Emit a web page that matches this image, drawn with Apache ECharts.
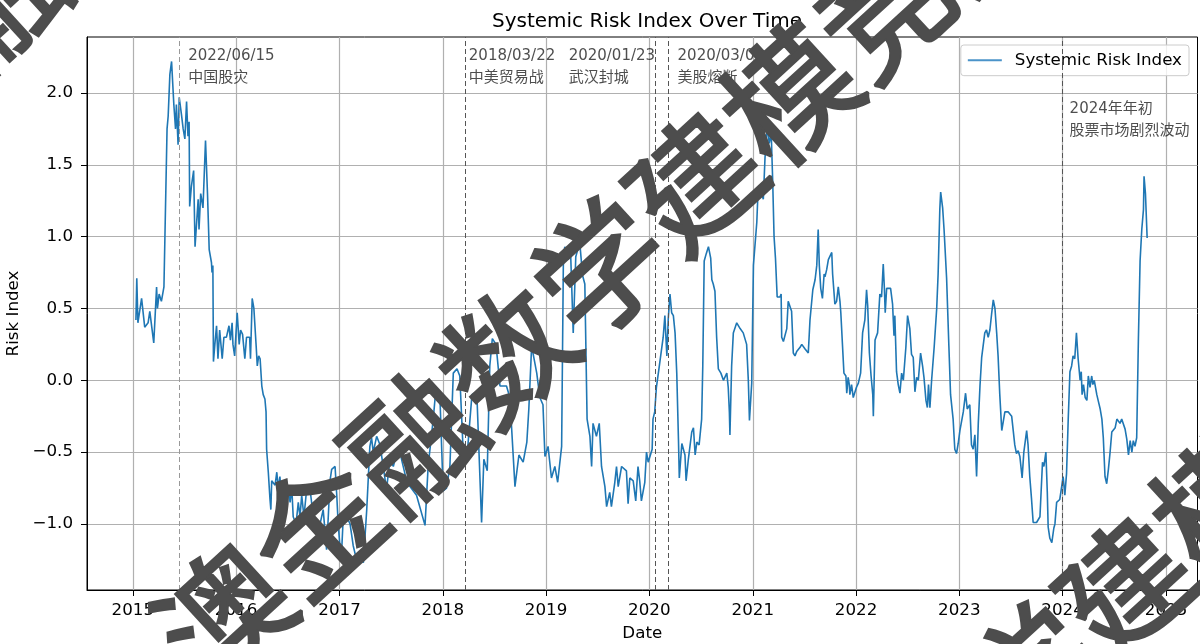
<!DOCTYPE html>
<html>
<head>
<meta charset="utf-8">
<title>Systemic Risk Index Over Time</title>
<script src="https://cdn.jsdelivr.net/npm/echarts@6/dist/echarts.min.js"></script>
<style>
  html, body { margin: 0; padding: 0; background: #fff; }
  #chart { width: 1200px; height: 644px; }
</style>
</head>
<body>
<div id="chart"></div>
<script>
// readings per year: month-day and index value
const days2015 = ['01-12','01-15','01-19','02-01','02-12','02-24','03-02','03-16','03-26','03-29','04-04','04-12','04-21','05-02','05-06','05-12','05-18','05-26','06-01','06-04','06-10','06-14','06-22','06-28','07-04','07-10','07-15','07-19','07-21','07-27','08-04','08-09','08-20','08-23','08-29','09-06','09-15','09-22','09-28','10-06','10-08','10-11','10-13','10-18','10-24','10-29','11-04','11-13','11-19','11-28','12-07','12-12','12-18','12-21','12-27'];
const risk2015 = [0.42,0.71,0.40,0.57,0.37,0.40,0.48,0.26,0.65,0.50,0.60,0.55,0.65,1.75,1.84,2.13,2.22,1.92,1.75,1.92,1.64,1.97,1.85,1.75,1.68,1.94,1.70,1.80,1.21,1.35,1.46,0.93,1.26,1.05,1.30,1.20,1.67,1.30,0.91,0.82,0.75,0.80,0.13,0.25,0.38,0.15,0.35,0.15,0.30,0.30,0.38,0.28,0.40,0.25,0.17];

const days2016 = ['01-05','01-12','01-17','01-24','02-01','02-07','02-18','02-21','02-27','03-04','03-12','03-16','03-21','03-26','04-01','04-06','04-12','04-16','04-18','04-24','04-30','05-03','05-06','05-18','05-24','05-29','06-04','06-14','06-22','06-28','07-04','07-10','07-16','07-21','07-31','08-08','08-14','08-20','08-28','09-07','09-18','09-30','10-12','10-24','11-04','11-16','11-22','11-28','12-04','12-16','12-22','12-27'];
const risk2016 = [0.47,0.25,0.35,0.32,0.15,0.30,0.30,0.15,0.57,0.50,0.24,0.10,0.17,0.15,-0.04,-0.10,-0.13,-0.22,-0.48,-0.64,-0.83,-0.90,-0.70,-0.73,-0.64,-0.75,-0.67,-0.97,-0.82,-0.90,-0.75,-0.85,-0.75,-0.95,-1.00,-0.85,-0.95,-0.80,-0.95,-0.75,-0.75,-0.95,-0.98,-1.00,-0.90,-1.18,-0.95,-0.70,-0.62,-0.60,-0.80,-1.00];

const days2017 = ['01-02','01-08','01-14','01-26','02-07','02-18','03-02','03-14','03-26','04-07','04-18','04-24','04-30','05-12','05-24','06-04','06-16','06-28','07-10','07-22','08-02','08-26','09-07','09-30','10-30','11-10','11-28','12-08','12-22'];
const risk2017 = [-1.15,-1.20,-0.95,-0.95,-1.00,-1.15,-1.25,-1.22,-1.27,-0.90,-0.46,-0.40,-0.50,-0.39,-0.45,-0.60,-0.76,-0.55,-0.60,-0.50,-0.50,-0.70,-0.74,-0.80,-1.01,-0.60,-0.27,-0.05,-0.13];

const days2018 = ['01-02','01-14','01-26','02-07','02-20','03-02','03-14','03-26','04-07','04-14','05-01','05-18','05-26','06-07','06-16','06-25','07-08','07-22','08-14','08-26','09-13','09-27','10-12','10-25','11-01','11-11','11-29','12-10','12-21','12-28'];
const risk2018 = [-0.77,-0.75,-0.60,0.05,0.08,0.03,-0.50,-0.57,-0.27,-0.10,-0.08,-0.99,-0.55,-0.63,0.10,0.29,0.25,-0.04,-0.04,-0.12,-0.74,-0.52,-0.57,-0.43,-0.20,0.24,0.05,-0.12,-0.17,-0.53];

const days2019 = ['01-08','01-20','02-01','02-11','02-25','03-03','03-08','03-20','03-29','04-07','04-16','04-30','05-10','05-18','05-26','06-05','06-11','06-16','06-28','07-08','07-16','07-28','08-03','08-14','08-20','09-01','09-07','09-13','09-25','10-12','10-18','10-24','11-05','11-14','11-22','11-28','12-04','12-16','12-22','12-28'];
const risk2019 = [-0.46,-0.68,-0.60,-0.71,-0.46,0.80,0.93,0.84,0.87,0.33,0.86,0.96,0.73,0.67,-0.27,-0.39,-0.60,-0.30,-0.39,-0.30,-0.60,-0.74,-0.88,-0.78,-0.88,-0.71,-0.60,-0.74,-0.60,-0.63,-0.86,-0.68,-0.70,-0.84,-0.60,-0.70,-0.84,-0.71,-0.50,-0.57];

const days2020 = ['01-03','01-11','01-14','01-20','01-26','02-04','02-19','02-25','03-03','03-08','03-14','03-20','03-26','04-01','04-07','04-13','04-16','04-25','05-06','05-10','05-18','05-30','06-05','06-11','06-17','06-25','07-04','07-08','07-13','07-20','07-28','08-05','08-09','08-14','08-20','08-26','09-01','09-10','09-19','10-01','10-06','10-10','10-12','10-18','10-24','11-05','11-17','11-28','12-10','12-16','12-20','12-28'];
const risk2020 = [-0.57,-0.48,-0.27,-0.22,-0.05,0.08,0.30,0.45,0.17,0.43,0.60,0.47,0.45,0.33,0.05,-0.41,-0.68,-0.44,-0.52,-0.70,-0.55,-0.36,-0.33,-0.52,-0.43,-0.45,-0.27,0.10,0.83,0.88,0.93,0.85,0.70,0.67,0.62,0.30,0.08,0.05,0.00,0.05,-0.05,-0.22,-0.38,0.10,0.33,0.40,0.36,0.33,0.25,0.00,-0.28,-0.02];

const days2021 = ['01-03','01-15','01-20','01-26','02-01','02-07','02-13','02-21','02-28','03-07','03-12','03-17','03-22','03-28','04-07','04-11','04-13','04-19','05-01','05-06','05-12','05-18','05-24','05-30','06-05','06-17','06-23','07-04','07-16','07-22','08-01','08-09','08-15','08-20','08-24','08-29','09-04','09-10','09-13','09-19','09-25','10-07','10-10','10-18','10-24','10-30','11-05','11-08','11-15','11-19','11-26','11-29','12-04','12-08','12-10','12-16','12-22','12-26'];
const risk2021 = [0.80,1.10,1.35,1.36,1.30,1.26,1.55,1.77,1.65,1.72,1.40,1.00,0.85,0.58,0.58,0.60,0.30,0.27,0.36,0.55,0.56,0.48,0.19,0.17,0.20,0.23,0.25,0.22,0.19,0.42,0.63,0.70,0.80,1.05,0.80,0.64,0.57,0.74,0.72,0.77,0.84,0.89,0.74,0.53,0.55,0.65,0.55,0.47,0.48,0.05,0.03,-0.09,0.02,-0.03,-0.10,-0.03,-0.12,-0.12];

const days2022 = ['01-02','01-09','01-17','01-24','02-01','02-07','02-11','02-17','02-23','03-01','03-03','03-09','03-18','03-26','04-01','04-07','04-11','04-14','04-19','05-03','05-10','05-15','05-18','05-24','05-30','06-05','06-11','06-17','06-26','07-02','07-10','07-16','07-22','07-28','08-03','08-09','08-17','08-24','08-29','09-05','09-10','09-14','09-19','09-25','10-04','10-13','10-18','10-24','10-27','11-03','11-08','11-17','11-25','12-01','12-10','12-16','12-22','12-28'];
const risk2022 = [-0.05,-0.02,0.05,0.33,0.42,0.63,0.52,0.19,0.03,-0.10,-0.25,0.28,0.33,0.60,0.58,0.81,0.64,0.47,0.64,0.64,0.53,0.31,0.45,0.06,-0.03,-0.09,0.05,0.00,0.23,0.45,0.36,0.18,0.16,-0.08,0.02,0.00,0.19,0.10,0.02,-0.14,-0.19,-0.03,-0.19,0.00,0.23,0.50,0.74,1.19,1.31,1.20,1.05,0.71,0.24,-0.10,-0.27,-0.48,-0.51,-0.44];

const days2023 = ['01-03','01-15','01-23','01-29','02-07','02-13','02-19','02-25','03-03','03-09','03-15','03-21','03-26','04-01','04-07','04-13','04-19','04-25','05-01','05-07','05-13','05-18','05-24','05-31','06-11','06-23','07-05','07-16','07-22','07-28','08-03','08-11','08-17','08-27','09-01','09-07','09-13','09-19','10-01','10-13','10-22','10-27','11-03','11-08','11-11','11-17','11-24','12-01','12-05','12-11','12-16','12-22','12-28'];
const risk2023 = [-0.35,-0.22,-0.09,-0.20,-0.17,-0.45,-0.48,-0.38,-0.67,-0.30,-0.04,0.16,0.17,0.33,0.35,0.30,0.35,0.46,0.56,0.50,0.33,0.17,-0.10,-0.35,-0.22,-0.22,-0.25,-0.45,-0.51,-0.49,-0.53,-0.68,-0.50,-0.35,-0.45,-0.67,-0.82,-0.99,-0.99,-0.95,-0.57,-0.60,-0.50,-0.78,-1.02,-1.10,-1.13,-1.03,-1.00,-0.85,-0.84,-0.83,-0.83];

const days2024 = ['01-03','01-09','01-15','01-21','01-27','02-02','02-07','02-13','02-19','02-25','03-03','03-07','03-10','03-15','03-21','03-27','04-01','04-07','04-13','04-17','04-22','05-01','05-07','05-13','05-19','05-24','05-30','06-05','06-11','06-17','06-23','06-29','07-05','07-11','07-22','07-28','08-09','08-15','08-21','08-27','09-02','09-07','09-13','09-19','09-25','10-01','10-07','10-13','10-15','10-20','10-26'];
const risk2024 = [-0.67,-0.80,-0.65,-0.27,0.06,0.10,0.17,0.15,0.33,0.15,0.00,0.06,-0.10,-0.03,-0.12,-0.14,0.03,-0.05,0.03,-0.03,0.00,-0.10,-0.15,-0.20,-0.27,-0.40,-0.67,-0.72,-0.62,-0.50,-0.36,-0.37,-0.33,-0.27,-0.30,-0.27,-0.34,-0.41,-0.52,-0.42,-0.50,-0.42,-0.46,-0.40,0.28,0.83,1.05,1.19,1.42,1.30,0.99];

// events marked with dashed lines, and their notes
const eventDates = ['2015-06-15', '2018-03-22', '2020-01-23', '2020-03-09', '2024-01-01'];
const eventNotes = ['2022/06/15\n中国股灾', '2018/03/22\n中美贸易战', '2020/01/23\n武汉封城', '2020/03/09\n美股熔断', '2024年年初\n股票市场剧烈波动'];
const noteDates = ['2015-07-14', '2018-04-01', '2019-03-20', '2020-04-08', '2024-01-24'];
const noteLevels = [2.18, 2.18, 2.18, 2.18, 1.81];

const tickYears = [2015, 2016, 2017, 2018, 2019, 2020, 2021, 2022, 2023, 2024, 2025];
const yTicks = [-1.0, -0.5, 0, 0.5, 1.0, 1.5, 2.0];

const yearBlocks = [
  [2015, days2015, risk2015], [2016, days2016, risk2016], [2017, days2017, risk2017],
  [2018, days2018, risk2018], [2019, days2019, risk2019], [2020, days2020, risk2020],
  [2021, days2021, risk2021], [2022, days2022, risk2022], [2023, days2023, risk2023],
  [2024, days2024, risk2024]
];

// dates go on a plain value axis as timestamps
const ts = s => {
  const [y, m, d] = s.split('-').map(Number);
  return +new Date(y, m - 1, d);
};
const points = [];
yearBlocks.forEach(([year, days, vals]) => {
  days.forEach((md, i) => points.push([ts(year + '-' + md), vals[i]]));
});
const yearTicks = tickYears.map(y => +new Date(y, 0, 1));

const FONT = "'DejaVu Sans', 'Noto Sans CJK SC', sans-serif";
const minus = s => s.replace('-', '\u2212');

const markText = '澳金融数学建模竞赛';
const markAnchors = [[176, 657], [606, 1062], [-241, 216]];

const chart = echarts.init(document.getElementById('chart'));
chart.setOption({
  animation: false,
  backgroundColor: '#fff',
  title: {
    text: 'Systemic Risk Index Over Time',
    left: 642, top: 7, textAlign: 'center',
    textStyle: { fontFamily: FONT, fontSize: 20, fontWeight: 'normal', color: '#000' }
  },
  legend: {
    data: ['Systemic Risk Index'],
    right: 11, top: 45,
    icon: 'rect', itemWidth: 34, itemHeight: 2,
    padding: [7, 7, 7, 7],
    borderColor: '#cccccc', borderWidth: 1, borderRadius: 3,
    backgroundColor: 'rgba(255,255,255,0.8)',
    itemStyle: { color: '#4a93c9' },
    textStyle: { fontFamily: FONT, fontSize: 16.7, color: '#000', padding: [0, 0, 0, 8] }
  },
  grid: {
    left: 87, right: 2.5, top: 37, bottom: 54,
    outerBoundsMode: 'none',
    show: true, borderColor: '#000', borderWidth: 1
  },
  xAxis: {
    type: 'value',
    min: ts('2014-07-23'), max: ts('2025-04-22'),
    name: 'Date', nameLocation: 'middle', nameGap: 35,
    nameTextStyle: { fontFamily: FONT, fontSize: 16.7, color: '#000' },
    axisLine: { show: true, onZero: false, lineStyle: { color: '#000', width: 1 } },
    axisTick: { show: true, length: 6, customValues: yearTicks, lineStyle: { color: '#000' } },
    axisLabel: {
      customValues: yearTicks,
      margin: 12, fontFamily: FONT, fontSize: 16.7, color: '#000',
      formatter: v => String(new Date(v).getFullYear())
    },
    splitLine: { show: true, lineStyle: { color: '#b0b0b0', width: 1.2 } }
  },
  yAxis: {
    type: 'value', min: -1.46, max: 2.39,
    name: 'Risk Index', nameLocation: 'middle', nameGap: 50,
    nameTextStyle: { fontFamily: FONT, fontSize: 16.7, color: '#000' },
    axisLine: { show: true, lineStyle: { color: '#000', width: 1 } },
    axisTick: { show: true, length: 6, customValues: yTicks, lineStyle: { color: '#000' } },
    axisLabel: {
      customValues: yTicks, margin: 14, fontFamily: FONT, fontSize: 16.7, color: '#000',
      formatter: v => minus(v.toFixed(1))
    },
    splitLine: { show: true, lineStyle: { color: '#b0b0b0', width: 1.2 } }
  },
  series: [
    {
      name: 'Systemic Risk Index',
      type: 'line',
      data: points,
      symbol: 'none',
      z: 3,
      itemStyle: { color: '#1f77b4' },
      lineStyle: { color: '#1f77b4', width: 1.6 },
      markLine: {
        silent: true, symbol: 'none', label: { show: false },
        data: eventDates.map((d, i) => ({
          xAxis: ts(d),
          lineStyle: { color: i === 0 ? '#999999' : '#555555', type: [5, 3], width: 1 }
        }))
      }
    },
    {
      name: 'notes',
      type: 'scatter',
      silent: true,
      symbolSize: 1,
      itemStyle: { color: 'rgba(0,0,0,0)' },
      data: noteDates.map((d, i) => ({ value: [ts(d), noteLevels[i]], label: { formatter: eventNotes[i] } })),
      label: {
        show: true, position: 'right', distance: 0, align: 'left',
        fontFamily: FONT, fontSize: 15, lineHeight: 21.5, color: '#222'
      }
    }
  ],
  graphic: markAnchors.map(([x, y]) => ({
    type: 'text', x: x, y: y, rotation: 42.5 * Math.PI / 180, z: 100, silent: true,
    style: {
      text: markText, fill: '#4d4d4d',
      stroke: '#4d4d4d', lineWidth: 3,
      fontSize: 128, fontFamily: "'Noto Sans CJK SC'",
      align: 'left', verticalAlign: 'middle'
    }
  }))
});
</script>
</body>
</html>
